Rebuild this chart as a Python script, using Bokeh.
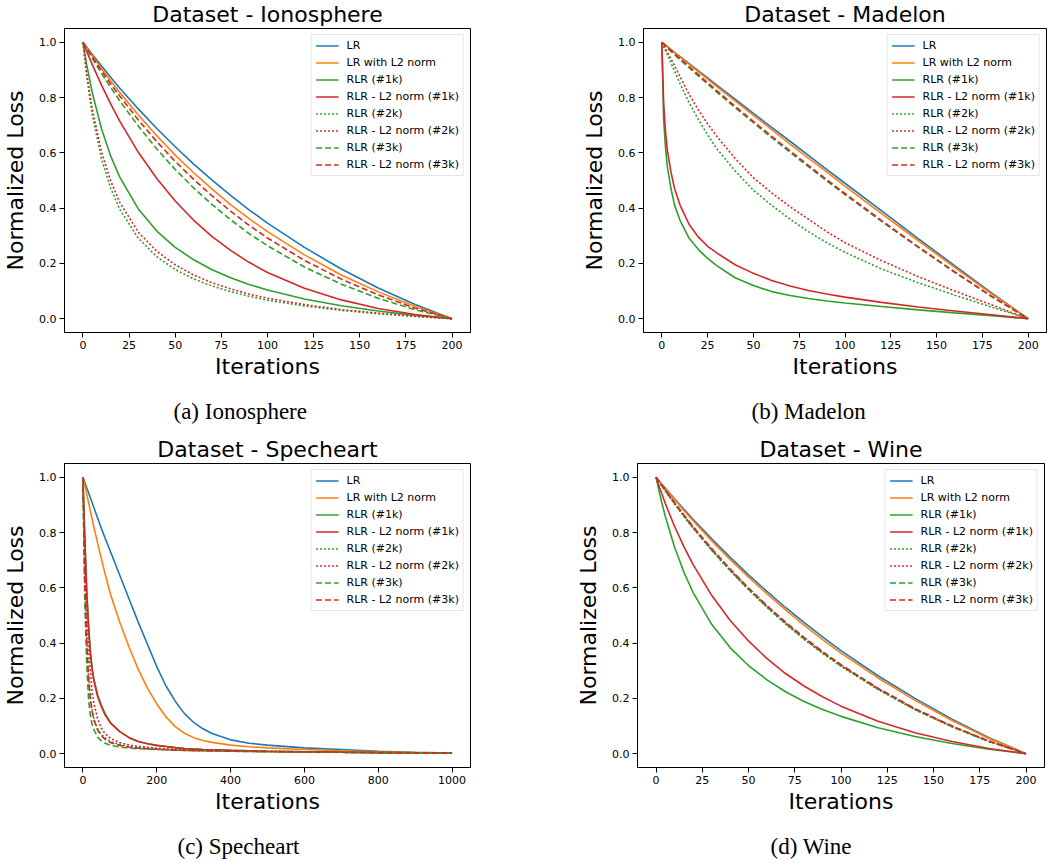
from bokeh.plotting import figure
from bokeh.layouts import column, row
from bokeh.models import Range1d, FixedTicker, NumeralTickFormatter, Title, Legend, LegendItem
from bokeh.embed import file_html
from bokeh.resources import INLINE

# ---------------- data ----------------
series_labels = ["LR", "LR with L2 norm", "RLR (#1k)", "RLR - L2 norm (#1k)",
                 "RLR (#2k)", "RLR - L2 norm (#2k)", "RLR (#3k)", "RLR - L2 norm (#3k)"]

iono_x = [0, 2, 5, 10, 15, 20, 30, 40, 50, 60, 70, 80, 90, 100, 120, 140, 160, 180, 200]
iono_lr = [1.0, 0.983, 0.957, 0.915, 0.874, 0.834, 0.759, 0.688, 0.622, 0.559, 0.501, 0.446, 0.394, 0.346, 0.258, 0.180, 0.111, 0.051, 0.0]
iono_lr_l2 = [1.0, 0.981, 0.952, 0.905, 0.861, 0.818, 0.737, 0.662, 0.592, 0.528, 0.469, 0.413, 0.362, 0.315, 0.231, 0.158, 0.097, 0.044, 0.0]
iono_rlr1 = [1.0, 0.920, 0.819, 0.688, 0.589, 0.511, 0.397, 0.317, 0.258, 0.213, 0.177, 0.148, 0.124, 0.104, 0.071, 0.047, 0.028, 0.012, 0.0]
iono_rlr1_l2 = [1.0, 0.967, 0.920, 0.846, 0.777, 0.714, 0.602, 0.507, 0.426, 0.356, 0.297, 0.247, 0.204, 0.167, 0.110, 0.068, 0.037, 0.015, 0.0]
iono_rlr2 = [1.0, 0.878, 0.739, 0.579, 0.472, 0.395, 0.291, 0.224, 0.178, 0.144, 0.118, 0.098, 0.081, 0.067, 0.046, 0.030, 0.018, 0.008, 0.0]
iono_rlr2_l2 = [1.0, 0.889, 0.759, 0.605, 0.499, 0.420, 0.313, 0.244, 0.195, 0.158, 0.130, 0.108, 0.089, 0.074, 0.051, 0.033, 0.020, 0.009, 0.0]
iono_rlr3 = [1.0, 0.977, 0.943, 0.888, 0.837, 0.788, 0.697, 0.614, 0.540, 0.473, 0.413, 0.358, 0.308, 0.264, 0.187, 0.125, 0.074, 0.032, 0.0]
iono_rlr3_l2 = [1.0, 0.979, 0.948, 0.898, 0.850, 0.805, 0.719, 0.641, 0.569, 0.504, 0.444, 0.389, 0.338, 0.292, 0.211, 0.143, 0.086, 0.038, 0.0]

mad_x = [0, 1, 2, 3, 5, 7, 10, 15, 20, 25, 30, 40, 50, 60, 70, 80, 90, 100, 120, 140, 160, 180, 200]
mad_lr = [1.0, 0.995, 0.990, 0.985, 0.974, 0.964, 0.948, 0.923, 0.897, 0.871, 0.845, 0.794, 0.743, 0.692, 0.642, 0.591, 0.540, 0.490, 0.390, 0.290, 0.191, 0.093, 0.0]
mad_lr_l2 = [1.0, 0.995, 0.989, 0.984, 0.973, 0.963, 0.946, 0.920, 0.893, 0.867, 0.840, 0.788, 0.736, 0.684, 0.632, 0.581, 0.531, 0.480, 0.380, 0.282, 0.185, 0.090, 0.0]
mad_rlr1 = [1.0, 0.72, 0.62, 0.55, 0.47, 0.41, 0.355, 0.29, 0.25, 0.218, 0.192, 0.148, 0.12, 0.098, 0.084, 0.073, 0.064, 0.057, 0.044, 0.032, 0.021, 0.011, 0.0]
mad_rlr1_l2 = [1.0, 0.78, 0.68, 0.61, 0.53, 0.47, 0.41, 0.34, 0.295, 0.262, 0.238, 0.195, 0.164, 0.138, 0.118, 0.102, 0.089, 0.078, 0.059, 0.042, 0.028, 0.014, 0.0]
mad_rlr2 = [1.0, 0.985, 0.97, 0.955, 0.925, 0.895, 0.85, 0.78, 0.72, 0.665, 0.615, 0.535, 0.465, 0.41, 0.36, 0.315, 0.275, 0.24, 0.18, 0.13, 0.085, 0.042, 0.0]
mad_rlr2_l2 = [1.0, 0.988, 0.976, 0.964, 0.94, 0.915, 0.875, 0.81, 0.755, 0.705, 0.66, 0.58, 0.51, 0.455, 0.405, 0.36, 0.315, 0.275, 0.21, 0.152, 0.10, 0.05, 0.0]
mad_rlr3 = [1.0, 0.993, 0.986, 0.980, 0.967, 0.955, 0.937, 0.907, 0.878, 0.849, 0.820, 0.764, 0.709, 0.655, 0.602, 0.550, 0.499, 0.449, 0.352, 0.258, 0.167, 0.080, 0.0]
mad_rlr3_l2 = [1.0, 0.994, 0.988, 0.982, 0.970, 0.958, 0.941, 0.912, 0.883, 0.854, 0.825, 0.769, 0.714, 0.660, 0.607, 0.555, 0.503, 0.453, 0.355, 0.260, 0.169, 0.081, 0.0]

spec_x = [0, 2, 5, 10, 15, 20, 25, 30, 40, 50, 60, 75, 100, 125, 150, 175, 200, 225, 250, 275, 300, 325, 350, 400, 450, 500, 600, 700, 800, 900, 1000]
spec_lr = [1.0, 0.993, 0.982, 0.963, 0.945, 0.926, 0.908, 0.889, 0.852, 0.815, 0.78, 0.73, 0.645, 0.56, 0.475, 0.395, 0.315, 0.245, 0.19, 0.145, 0.113, 0.09, 0.073, 0.05, 0.038, 0.031, 0.021, 0.015, 0.009, 0.005, 0.002]
spec_lr_l2 = [1.0, 0.988, 0.97, 0.94, 0.91, 0.878, 0.848, 0.818, 0.76, 0.705, 0.65, 0.575, 0.475, 0.385, 0.305, 0.236, 0.18, 0.133, 0.098, 0.074, 0.058, 0.048, 0.041, 0.031, 0.025, 0.021, 0.015, 0.01, 0.007, 0.004, 0.002]
spec_rlr1 = [1.0, 0.9, 0.78, 0.6, 0.47, 0.375, 0.31, 0.27, 0.212, 0.175, 0.145, 0.112, 0.08, 0.058, 0.044, 0.036, 0.03, 0.026, 0.022, 0.019, 0.017, 0.015, 0.014, 0.012, 0.0105, 0.009, 0.007, 0.005, 0.004, 0.003, 0.002]
spec_rlr1_l2 = [1.0, 0.9, 0.78, 0.59, 0.46, 0.36, 0.30, 0.26, 0.205, 0.17, 0.14, 0.11, 0.08, 0.058, 0.044, 0.036, 0.03, 0.026, 0.022, 0.019, 0.017, 0.015, 0.014, 0.012, 0.0105, 0.009, 0.007, 0.005, 0.004, 0.003, 0.002]
spec_rlr2 = [1.0, 0.84, 0.62, 0.41, 0.28, 0.2, 0.155, 0.125, 0.09, 0.07, 0.057, 0.044, 0.033, 0.026, 0.022, 0.019, 0.017, 0.0155, 0.014, 0.013, 0.012, 0.0115, 0.011, 0.01, 0.009, 0.008, 0.006, 0.005, 0.004, 0.003, 0.002]
spec_rlr2_l2 = [1.0, 0.88, 0.72, 0.52, 0.39, 0.3, 0.22, 0.18, 0.125, 0.092, 0.072, 0.055, 0.04, 0.031, 0.026, 0.023, 0.02, 0.018, 0.016, 0.015, 0.014, 0.013, 0.012, 0.011, 0.01, 0.009, 0.007, 0.006, 0.004, 0.003, 0.002]
spec_rlr3 = [1.0, 0.8, 0.55, 0.33, 0.2, 0.14, 0.105, 0.085, 0.06, 0.046, 0.038, 0.03, 0.024, 0.02, 0.018, 0.0165, 0.015, 0.014, 0.013, 0.012, 0.011, 0.0105, 0.01, 0.009, 0.008, 0.007, 0.006, 0.005, 0.004, 0.003, 0.002]
spec_rlr3_l2 = [1.0, 0.85, 0.63, 0.42, 0.28, 0.2, 0.15, 0.12, 0.085, 0.065, 0.052, 0.04, 0.03, 0.024, 0.02, 0.018, 0.016, 0.0145, 0.013, 0.012, 0.011, 0.0105, 0.01, 0.009, 0.008, 0.007, 0.006, 0.005, 0.004, 0.003, 0.002]

wine_x = [0, 2, 5, 10, 15, 20, 30, 40, 50, 60, 70, 80, 90, 100, 120, 140, 160, 180, 200]
wine_lr = [1.0, 0.984, 0.961, 0.922, 0.885, 0.848, 0.778, 0.711, 0.647, 0.587, 0.529, 0.475, 0.423, 0.373, 0.282, 0.200, 0.125, 0.058, 0.0]
wine_lr_l2 = [1.0, 0.984, 0.959, 0.920, 0.881, 0.843, 0.771, 0.703, 0.639, 0.578, 0.520, 0.465, 0.413, 0.364, 0.274, 0.193, 0.120, 0.055, 0.0]
wine_rlr1 = [1.0, 0.939, 0.859, 0.748, 0.658, 0.584, 0.469, 0.384, 0.319, 0.267, 0.224, 0.189, 0.160, 0.135, 0.094, 0.062, 0.037, 0.016, 0.0]
wine_rlr1_l2 = [1.0, 0.961, 0.906, 0.823, 0.750, 0.685, 0.574, 0.483, 0.408, 0.344, 0.290, 0.245, 0.206, 0.172, 0.117, 0.076, 0.044, 0.019, 0.0]
wine_rlr2 = [1.0, 0.980, 0.951, 0.904, 0.859, 0.816, 0.736, 0.662, 0.593, 0.529, 0.469, 0.414, 0.363, 0.316, 0.232, 0.159, 0.097, 0.044, 0.0]
wine_rlr2_l2 = [1.0, 0.981, 0.953, 0.907, 0.863, 0.820, 0.740, 0.666, 0.597, 0.533, 0.473, 0.418, 0.367, 0.319, 0.235, 0.161, 0.099, 0.045, 0.0]
wine_rlr3 = [1.0, 0.981, 0.952, 0.906, 0.861, 0.818, 0.738, 0.664, 0.595, 0.531, 0.471, 0.416, 0.365, 0.318, 0.234, 0.160, 0.098, 0.044, 0.0]
wine_rlr3_l2 = [1.0, 0.982, 0.954, 0.909, 0.865, 0.822, 0.743, 0.669, 0.600, 0.536, 0.476, 0.421, 0.370, 0.322, 0.237, 0.163, 0.100, 0.046, 0.0]

iter_ticks_200 = [0, 25, 50, 75, 100, 125, 150, 175, 200]
iter_ticks_1000 = [0, 200, 400, 600, 800, 1000]
loss_ticks = [0.0, 0.2, 0.4, 0.6, 0.8, 1.0]

# ---------------- styling ----------------
BLUE, ORANGE, GREEN, RED = "#1f77b4", "#ff7f0e", "#2ca02c", "#d62728"
line_styles = [(BLUE, "solid"), (ORANGE, "solid"), (GREEN, "solid"), (RED, "solid"),
               (GREEN, "2 2"), (RED, "2 2"), (GREEN, "6 3"), (RED, "6 3")]
SANS = "DejaVu Sans"
SERIF = "Liberation Serif"


def panel(title, caption, xs, ys, x_range, xticks, width, height,
          b_left, b_right, b_top, b_bottom, cap_offset, spacer):
    p = figure(width=width, height=height, output_backend="svg", toolbar_location=None,
               x_range=Range1d(*x_range), y_range=Range1d(-0.05, 1.05),
               min_border_left=b_left, min_border_right=b_right,
               min_border_top=b_top, min_border_bottom=b_bottom)
    p.grid.grid_line_color = None
    p.outline_line_color = "black"
    p.outline_line_width = 1
    p.outline_line_alpha = 1.0
    p.background_fill_color = "white"
    p.border_fill_color = "white"

    p.add_layout(Title(text=title, align="center", vertical_align="top", text_font=SANS,
                       text_font_size="22px", text_font_style="normal", text_color="black",
                       standoff=0), "above")

    for ax in (p.xaxis[0], p.yaxis[0]):
        ax.axis_line_color = "black"
        ax.major_tick_line_color = "black"
        ax.minor_tick_line_color = None
        ax.major_tick_out = 5
        ax.major_tick_in = 0
        ax.major_label_text_font = SANS
        ax.major_label_text_font_size = "11px"
        ax.major_label_text_color = "black"
        ax.major_label_standoff = 3
        ax.axis_label_text_font = SANS
        ax.axis_label_text_font_size = "22px"
        ax.axis_label_text_font_style = "normal"
        ax.axis_label_text_color = "black"
    p.xaxis.ticker = FixedTicker(ticks=xticks)
    p.yaxis.ticker = FixedTicker(ticks=loss_ticks)
    p.yaxis.formatter = NumeralTickFormatter(format="0.0")
    p.xaxis.axis_label = "Iterations"
    p.yaxis.axis_label = "Normalized Loss"
    p.xaxis.axis_label_standoff = 2
    p.yaxis.axis_label_standoff = 8

    items = []
    for lab, yv, (col, dash) in zip(series_labels, ys, line_styles):
        r = p.line(xs, yv, line_color=col, line_width=1.6, line_dash=dash)
        items.append(LegendItem(label=lab, renderers=[r]))
    leg = Legend(items=items, location="top_right", margin=6, padding=4, spacing=4,
                 label_height=13, glyph_height=13, glyph_width=23, label_standoff=8,
                 label_text_font=SANS, label_text_font_size="11px", label_text_color="black",
                 border_line_color="#cccccc", border_line_width=1,
                 background_fill_color="white", background_fill_alpha=0.8)
    p.add_layout(leg)

    p.add_layout(Title(text=" ", text_font_size="1px", standoff=spacer), "below")
    p.add_layout(Title(text=caption, align="left", offset=cap_offset, text_font=SERIF,
                       text_font_size="23px", text_font_style="normal", text_color="black",
                       standoff=0), "below")
    return p


pa = panel("Dataset - Ionosphere", "(a) Ionosphere", iono_x,
           [iono_lr, iono_lr_l2, iono_rlr1, iono_rlr1_l2, iono_rlr2, iono_rlr2_l2, iono_rlr3, iono_rlr3_l2],
           (-10, 210), iter_ticks_200, 560, 432, 63, 90, 28, 100, 109, 12)
pb = panel("Dataset - Madelon", "(b) Madelon", mad_x,
           [mad_lr, mad_lr_l2, mad_rlr1, mad_rlr1_l2, mad_rlr2, mad_rlr2_l2, mad_rlr3, mad_rlr3_l2],
           (-10, 210), iter_ticks_200, 488, 432, 83, 2, 28, 100, 108, 12)
pc = panel("Dataset - Specheart", "(c) Specheart", spec_x,
           [spec_lr, spec_lr_l2, spec_rlr1, spec_rlr1_l2, spec_rlr2, spec_rlr2_l2, spec_rlr3, spec_rlr3_l2],
           (-50, 1050), iter_ticks_1000, 560, 427, 63, 90, 31, 92, 113, 12)
pd_ = panel("Dataset - Wine", "(d) Wine", wine_x,
            [wine_lr, wine_lr_l2, wine_rlr1, wine_rlr1_l2, wine_rlr2, wine_rlr2_l2, wine_rlr3, wine_rlr3_l2],
            (-10, 210), iter_ticks_200, 488, 427, 77, 4, 31, 92, 133, 12)

layout = column(row(pa, pb), row(pc, pd_))
open("out.html", "w").write(file_html(layout, INLINE))
